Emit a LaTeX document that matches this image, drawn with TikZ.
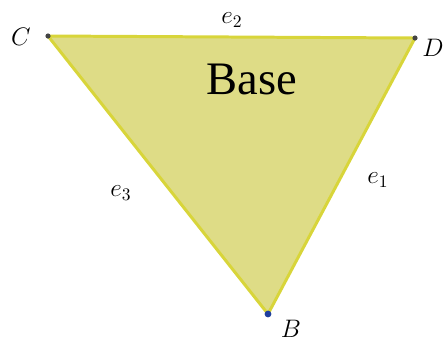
\documentclass[tikz,border=0pt]{standalone}
\usepackage{fontspec}
\setmainfont{Liberation Serif}
\definecolor{basefill}{HTML}{DEDC86}
\definecolor{baseedge}{HTML}{D8D53A}
\definecolor{dotgray}{HTML}{444444}
\definecolor{dotblue}{HTML}{1F3F9F}
\tikzset{lbl/.style={font=\fontsize{14}{16}\selectfont}}

\begin{document}
\begin{tikzpicture}[x=0.02cm, y=-0.02cm, thick]
  \useasboundingbox (0,0) rectangle (443,343);
  % 三个顶点（按像素位置放置）
  \coordinate (C) at (48, 36);
  \coordinate (D) at (415, 38);
  \coordinate (B) at (268, 314);

  \filldraw[fill=basefill, draw=baseedge, line width=1.7pt, line join=round]
    (C) -- (D) -- (B) -- cycle;

  \fill[dotgray] (C) circle (2.6);
  \fill[dotgray] (D) circle (2.6);
  \fill[dotblue] (B) circle (3.4);

  \node[font=\fontsize{26.5}{30}\selectfont, anchor=base] (base) at (252, 94) {Base};
  \node[lbl] (lC) at (21, 37)  {$C$};
  \node[lbl] (lD) at (433, 48) {$D$};
  \node[lbl] (lB) at (291, 329) {$B$};
  \node[lbl] (e2) at (232, 20)  {$e_2$};
  \node[lbl] (e3) at (121, 193) {$e_3$};
  \node[lbl] (e1) at (378, 180) {$e_1$};
\end{tikzpicture}
\end{document}
